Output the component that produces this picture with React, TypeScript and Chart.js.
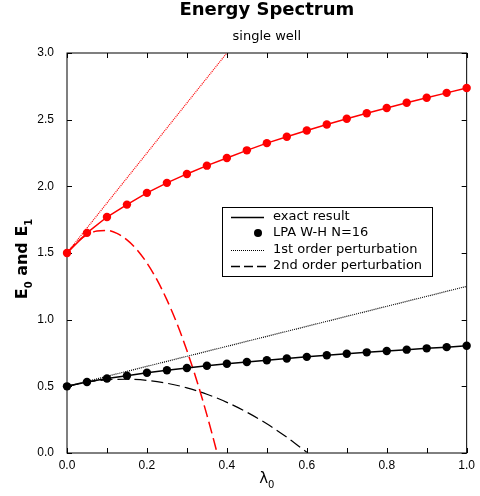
import React, { useEffect, useRef } from "react";
import { Chart, registerables } from "chart.js";

Chart.register(...registerables);

// ---- data ----
const lambdaGrid = [0, 0.05, 0.1, 0.15, 0.2, 0.25, 0.3, 0.35, 0.4, 0.45, 0.5, 0.55, 0.6, 0.65, 0.7, 0.75, 0.8, 0.85, 0.9, 0.95, 1.0];
const groundLPA = [0.5, 0.532, 0.559, 0.58, 0.602, 0.621, 0.638, 0.654, 0.669, 0.683, 0.696, 0.709, 0.721, 0.733, 0.744, 0.755, 0.765, 0.775, 0.785, 0.794, 0.804];
const excitedLPA = [1.5, 1.651, 1.77, 1.863, 1.951, 2.026, 2.093, 2.155, 2.212, 2.27, 2.324, 2.372, 2.419, 2.464, 2.507, 2.548, 2.588, 2.627, 2.664, 2.701, 2.738];
const groundExact = [0.5, 0.532, 0.559, 0.58, 0.602, 0.621, 0.638, 0.654, 0.669, 0.683, 0.696, 0.709, 0.721, 0.733, 0.744, 0.755, 0.765, 0.775, 0.785, 0.794, 0.804];
const excitedExact = [1.5, 1.651, 1.77, 1.863, 1.951, 2.026, 2.093, 2.155, 2.212, 2.27, 2.324, 2.372, 2.419, 2.464, 2.507, 2.548, 2.588, 2.627, 2.664, 2.701, 2.738];

const firstOrderGroundX = [0, 1.0];
const firstOrderGroundY = [0.5, 1.25];
const firstOrderExcitedX = [0, 0.4];
const firstOrderExcitedY = [1.5, 3.0];

const secondOrderGroundX = [0, 0.05, 0.1, 0.15, 0.2, 0.25, 0.3, 0.35, 0.4, 0.45, 0.5, 0.55, 0.6];
const secondOrderGroundY = [0.5, 0.531, 0.549, 0.553, 0.545, 0.523, 0.489, 0.441, 0.38, 0.306, 0.219, 0.118, 0.005];
const secondOrderExcitedX = [0, 0.025, 0.05, 0.075, 0.1, 0.125, 0.15, 0.175, 0.2, 0.225, 0.25, 0.275, 0.3, 0.325, 0.35, 0.375, 0.4];
const secondOrderExcitedY = [1.5, 1.581, 1.636, 1.665, 1.669, 1.647, 1.598, 1.525, 1.425, 1.3, 1.148, 0.972, 0.769, 0.54, 0.286, 0.006, -0.3];

const xTickMarks = [0, 0.1, 0.2, 0.3, 0.4, 0.5, 0.6, 0.7, 0.8, 0.9, 1.0];
const yTickMarks = [0, 0.5, 1.0, 1.5, 2.0, 2.5, 3.0];

const titleText = "Energy Spectrum";
const subtitleText = "single well";
const legendLabels = ["exact result", "LPA W-H N=16", "1st order perturbation", "2nd order perturbation"];

const RED = "#ff0000";
const BLACK = "#000000";

const pts = (xs: number[], ys: number[]) => xs.map((x, i) => ({ x, y: ys[i] }));

const decorPlugin = {
  id: "decor",
  beforeDatasetsDraw(chart: any) {
    const { ctx, chartArea: a, scales } = chart;
    ctx.save();
    ctx.strokeStyle = "#000";
    ctx.lineWidth = 1;
    ctx.strokeRect(a.left, a.top, a.right - a.left, a.bottom - a.top);
    const tl = 5;
    ctx.beginPath();
    xTickMarks.forEach((v) => {
      const px = Math.round(scales.x.getPixelForValue(v)) + 0.5;
      ctx.moveTo(px, a.bottom);
      ctx.lineTo(px, a.bottom - tl);
      ctx.moveTo(px, a.top);
      ctx.lineTo(px, a.top + tl);
    });
    yTickMarks.forEach((v) => {
      const py = Math.round(scales.y.getPixelForValue(v)) + 0.5;
      ctx.moveTo(a.left, py);
      ctx.lineTo(a.left + tl, py);
      ctx.moveTo(a.right, py);
      ctx.lineTo(a.right - tl, py);
    });
    ctx.stroke();
    ctx.restore();
  },
  afterDraw(chart: any) {
    const { ctx, chartArea: a } = chart;
    const cx = (a.left + a.right) / 2;
    ctx.save();
    ctx.fillStyle = "#000";
    ctx.textBaseline = "alphabetic";
    ctx.textAlign = "center";
    ctx.font = "bold 18px 'DejaVu Sans'";
    ctx.fillText(titleText, cx, 15);
    ctx.font = "13px 'DejaVu Sans'";
    ctx.fillText(subtitleText, cx, 40);

    // x-axis title: λ0
    ctx.textAlign = "left";
    const mainX = "15px 'DejaVu Sans'";
    const subX = "10px 'DejaVu Sans'";
    ctx.font = mainX;
    const wl = ctx.measureText("λ").width;
    ctx.font = subX;
    const w0 = ctx.measureText("0").width;
    let sx = cx - (wl + w0) / 2;
    ctx.font = mainX;
    ctx.fillText("λ", sx, 483);
    ctx.font = subX;
    ctx.fillText("0", sx + wl, 488);

    // y-axis title: E0 and E1 (rotated)
    ctx.save();
    ctx.translate(27, 259);
    ctx.rotate(-Math.PI / 2);
    const mainY = "bold 16px 'DejaVu Sans'";
    const subY = "bold 10px 'DejaVu Sans'";
    const parts: [string, boolean][] = [["E", false], ["0", true], [" and ", false], ["E", false], ["1", true]];
    let total = 0;
    parts.forEach(([t, s]) => {
      ctx.font = s ? subY : mainY;
      total += ctx.measureText(t).width;
    });
    let u = -total / 2;
    parts.forEach(([t, s]) => {
      ctx.font = s ? subY : mainY;
      ctx.fillText(t, u, s ? 5 : 0);
      u += ctx.measureText(t).width;
    });
    ctx.restore();

    // legend
    ctx.strokeStyle = "#000";
    ctx.lineWidth = 1;
    ctx.strokeRect(222.5, 207.5, 210, 69);
    const rows = [217, 233, 250, 266];
    const lx0 = 231;
    const lx1 = 264;
    ctx.font = "13px 'DejaVu Sans'";
    ctx.textBaseline = "middle";
    ctx.textAlign = "left";
    legendLabels.forEach((lab, i) => ctx.fillText(lab, 273, rows[i]));
    // row 1 solid
    ctx.lineWidth = 1.3;
    ctx.setLineDash([]);
    ctx.beginPath();
    ctx.moveTo(lx0, rows[0] + 0.5);
    ctx.lineTo(lx1, rows[0] + 0.5);
    ctx.stroke();
    // row 2 dot
    ctx.beginPath();
    ctx.arc(258, rows[1], 4, 0, Math.PI * 2);
    ctx.fill();
    // row 3 dotted
    ctx.lineWidth = 1.2;
    ctx.setLineDash([1, 1]);
    ctx.beginPath();
    ctx.moveTo(lx0, rows[2] + 0.5);
    ctx.lineTo(lx1, rows[2] + 0.5);
    ctx.stroke();
    // row 4 dashed
    ctx.lineWidth = 1.3;
    ctx.setLineDash([9, 4]);
    ctx.beginPath();
    ctx.moveTo(lx0, rows[3] + 0.5);
    ctx.lineTo(lx1 + 2, rows[3] + 0.5);
    ctx.stroke();
    ctx.restore();
  },
};

export default function App() {
  const ref = useRef<HTMLCanvasElement | null>(null);
  useEffect(() => {
    if (!ref.current) return;
    const chart = new Chart(ref.current, {
      type: "line",
      data: {
        datasets: [
          {
            label: "LPA E1",
            data: pts(lambdaGrid, excitedLPA),
            showLine: false,
            pointRadius: 4.2,
            pointBackgroundColor: RED,
            pointBorderWidth: 0,
            clip: false,
            order: 0,
          } as any,
          {
            label: "LPA E0",
            data: pts(lambdaGrid, groundLPA),
            showLine: false,
            pointRadius: 4.2,
            pointBackgroundColor: BLACK,
            pointBorderWidth: 0,
            clip: false,
            order: 0,
          },
          {
            label: "exact E1",
            data: pts(lambdaGrid, excitedExact),
            borderColor: RED,
            borderWidth: 1.5,
            pointRadius: 0,
            tension: 0,
            order: 1,
          },
          {
            label: "exact E0",
            data: pts(lambdaGrid, groundExact),
            borderColor: BLACK,
            borderWidth: 1.5,
            pointRadius: 0,
            tension: 0,
            order: 1,
          },
          {
            label: "1st E1",
            data: pts(firstOrderExcitedX, firstOrderExcitedY),
            borderColor: RED,
            borderWidth: 1.2,
            borderDash: [1, 1],
            pointRadius: 0,
            order: 2,
          },
          {
            label: "1st E0",
            data: pts(firstOrderGroundX, firstOrderGroundY),
            borderColor: BLACK,
            borderWidth: 1.2,
            borderDash: [1, 1],
            pointRadius: 0,
            order: 2,
          },
          {
            label: "2nd E1",
            data: pts(secondOrderExcitedX, secondOrderExcitedY),
            borderColor: RED,
            borderWidth: 1.5,
            borderDash: [12, 5],
            pointRadius: 0,
            cubicInterpolationMode: "monotone",
            order: 2,
          },
          {
            label: "2nd E0",
            data: pts(secondOrderGroundX, secondOrderGroundY),
            borderColor: BLACK,
            borderWidth: 1.2,
            borderDash: [12, 5],
            pointRadius: 0,
            cubicInterpolationMode: "monotone",
            order: 2,
          },
        ],
      },
      options: {
        animation: false,
        responsive: true,
        maintainAspectRatio: false,
        layout: { padding: { top: 53, right: 13, left: 0, bottom: 0 } },
        plugins: {
          legend: { display: false },
          title: { display: false },
          tooltip: { enabled: false },
        },
        scales: {
          x: {
            type: "linear",
            min: 0,
            max: 1,
            grid: { display: false, drawTicks: false },
            border: { display: false },
            ticks: {
              stepSize: 0.2,
              padding: 5,
              color: "#000",
              font: { family: "'Liberation Sans'", size: 12 },
              callback: (v: any) => Number(v).toFixed(1),
              maxRotation: 0,
            },
            afterFit: (s: any) => {
              s.height = 43;
            },
          },
          y: {
            type: "linear",
            min: 0,
            max: 3,
            grid: { display: false, drawTicks: false },
            border: { display: false },
            ticks: {
              stepSize: 0.5,
              padding: 13,
              color: "#000",
              font: { family: "'Liberation Sans'", size: 12 },
              callback: (v: any) => Number(v).toFixed(1),
            },
            afterFit: (s: any) => {
              s.width = 67;
            },
          },
        },
      },
      plugins: [decorPlugin],
    });
    return () => chart.destroy();
  }, []);

  return (
    <div style={{ position: "fixed", left: 0, top: 0, width: 480, height: 496, background: "#fff" }}>
      <canvas ref={ref} />
    </div>
  );
}
